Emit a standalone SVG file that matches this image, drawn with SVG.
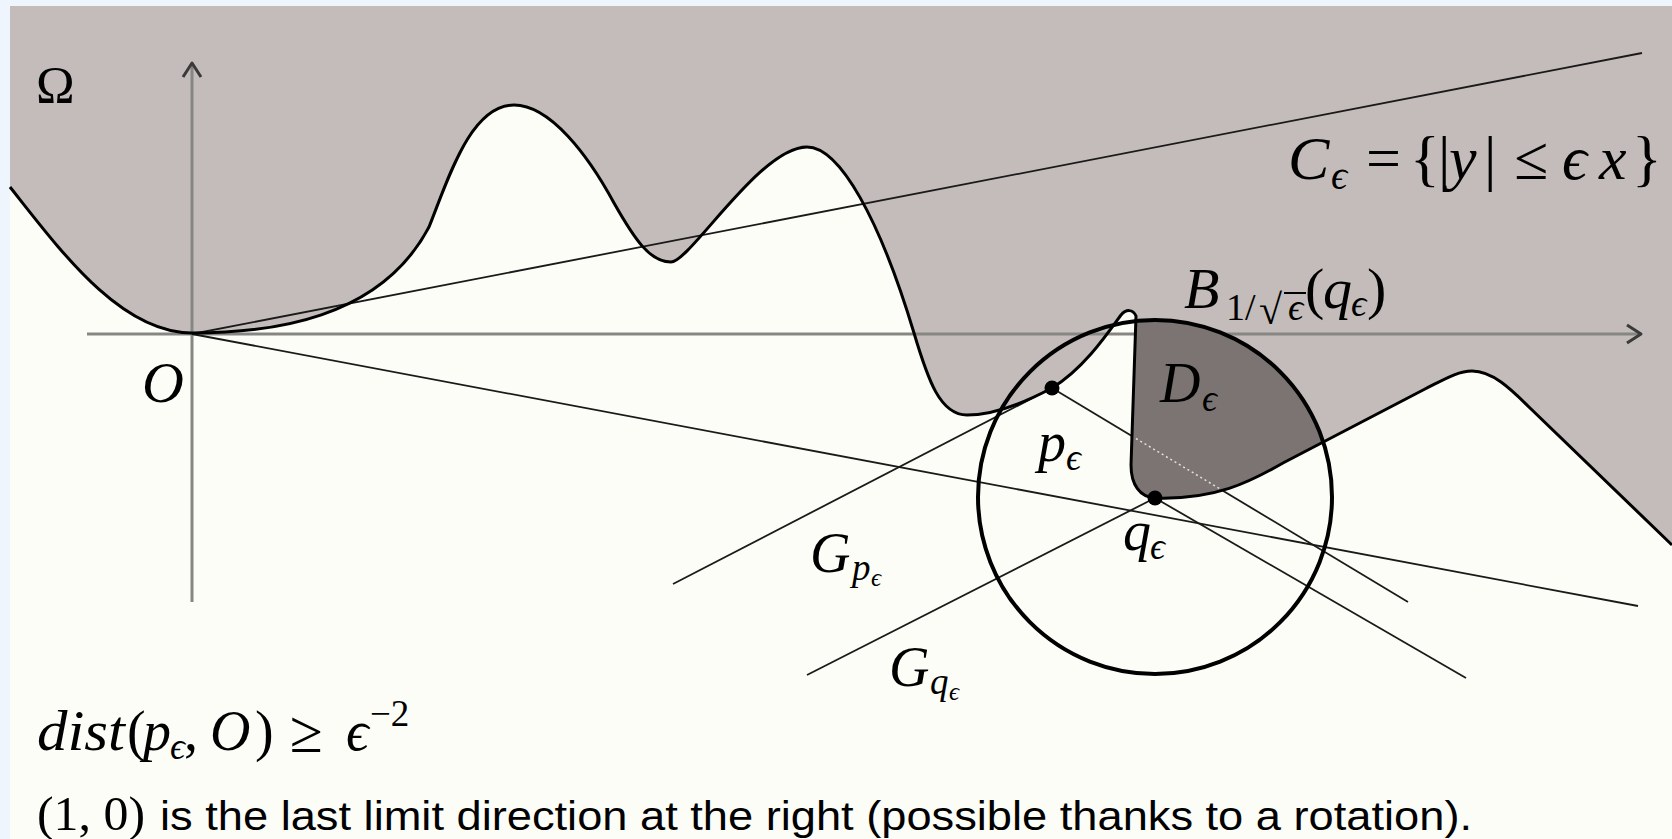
<svg xmlns="http://www.w3.org/2000/svg" width="1672" height="839" viewBox="0 0 1672 839">
<defs>
<style>
.m{font-family:"Liberation Serif","DejaVu Serif",serif;fill:#000}
.i{font-style:italic}
.thin{stroke:#1a1a1a;stroke-width:1.8;fill:none}
.axis{stroke:#868682;stroke-width:3;fill:none}
.arrow{stroke:#3a3a3a;stroke-width:3;fill:none;stroke-linejoin:round}
.sans{font-family:"Liberation Sans",Arial,sans-serif;fill:#000}
.dot{fill:#000}
</style>
</defs>
<rect width="1672" height="839" fill="#eef5fc"/>
<rect x="10" y="6" width="1662" height="833" fill="#fdfdf8"/>

<g id="omega-region">
<path fill="#c3bcba" d="M10,187 C60,250 120,333 192,333 C270,333 380,320 429,227 C448,180 470,105 514,105 C550,105 588,155 614,203 C635,240 650,262 671,262 C690,262 760,147 807,147 C840,147 880,220 914,333 C928,380 940,415 967,415 C990,415 1020,405 1052,388 C1085,368 1110,330 1121,315 C1126,309 1133,309 1136,316 L1131,465 C1131,485 1140,497 1155,498 C1215,500 1250,482 1283,463 L1425,389 C1445,379 1458,371 1472,371 C1492,371 1510,388 1530,408 L1672,545 L1672,6 L10,6 Z"/>
</g>

<g id="axes">
<line class="axis" x1="192" y1="602" x2="192" y2="64"/>
<line class="axis" x1="87" y1="334" x2="1640" y2="334"/>
<polyline class="arrow" points="183,77 192,63 201,77"/>
<polyline class="arrow" points="1627,325 1641,334 1627,343"/>
</g>

<g id="connectors">
<line class="thin" x1="192" y1="334" x2="1642" y2="53"/>
<line class="thin" x1="192" y1="334" x2="1638" y2="606"/>
<line class="thin" x1="673" y1="584" x2="1052" y2="388"/>
<line class="thin" x1="1052" y1="388" x2="1408" y2="602"/>
<line class="thin" x1="807" y1="675" x2="1155" y2="498"/>
<line class="thin" x1="1155" y1="498" x2="1466" y2="678"/>
</g>

<g id="D-region">
<path fill="#7b7473" d="M1136,320 L1131,465 C1131,485 1140,497 1155,498 C1215,500 1250,482 1283,463 L1322,443 A177,177 0 0 0 1136,320 Z"/>
<line x1="1136" y1="438.5" x2="1221" y2="489.5" stroke="#e2e2e2" stroke-width="1.5" stroke-dasharray="2 3"/>
</g>

<g id="boundary">
<path fill="none" stroke="#000" stroke-width="3" d="M10,187 C60,250 120,333 192,333 C270,333 380,320 429,227 C448,180 470,105 514,105 C550,105 588,155 614,203 C635,240 650,262 671,262 C690,262 760,147 807,147 C840,147 880,220 914,333 C928,380 940,415 967,415 C990,415 1020,405 1052,388 C1085,368 1110,330 1121,315 C1126,309 1133,309 1136,316 L1131,465 C1131,485 1140,497 1155,498 C1215,500 1250,482 1283,463 L1425,389 C1445,379 1458,371 1472,371 C1492,371 1510,388 1530,408 L1672,545"/>
</g>

<g id="ball">
<circle cx="1155" cy="497" r="177" fill="none" stroke="#000" stroke-width="4"/>
</g>

<g id="points">
<circle class="dot" cx="1052" cy="388" r="7.5"/>
<circle class="dot" cx="1155" cy="498" r="7.5"/>
</g>

<g id="label-omega"><text class="m" x="36" y="103" font-size="52">Ω</text></g>

<g id="label-cone">
<text class="m" y="179" font-size="62"><tspan class="i" x="1288">C</tspan><tspan x="1331" y="189" font-size="40" class="i">ϵ</tspan><tspan x="1366" y="179">=</tspan><tspan x="1410">{</tspan><tspan x="1438">|</tspan><tspan class="i" x="1449">y</tspan><tspan x="1484">|</tspan><tspan x="1514">≤</tspan><tspan class="i" x="1562">ϵ</tspan><tspan class="i" x="1599">x</tspan><tspan x="1632">}</tspan></text>
</g>

<g id="label-O"><text class="m i" x="142" y="402" font-size="58">O</text></g>

<g id="label-D">
<text class="m i" x="1160" y="402" font-size="56">D</text>
<text class="m i" x="1202" y="411" font-size="37">ϵ</text>
</g>

<g id="label-p">
<text class="m i" x="1038" y="461" font-size="56">p</text>
<text class="m i" x="1066" y="470" font-size="37">ϵ</text>
</g>

<g id="label-q">
<text class="m i" x="1123" y="550" font-size="56">q</text>
<text class="m i" x="1150" y="559" font-size="37">ϵ</text>
</g>

<g id="label-B">
<text class="m i" x="1184" y="308" font-size="58">B</text>
<text class="m" x="1226" y="320" font-size="38">1</text>
<text class="m" x="1245" y="320" font-size="38">/</text>
<text class="m" x="1259" y="324" font-size="42">√</text>
<text class="m i" x="1288" y="320" font-size="38">ϵ</text>
<line x1="1284" y1="293" x2="1306" y2="293" stroke="#000" stroke-width="2"/>
<text class="m" x="1305" y="308" font-size="58">(</text>
<text class="m i" x="1323" y="308" font-size="58">q</text>
<text class="m i" x="1351" y="316" font-size="38">ϵ</text>
<text class="m" x="1367" y="308" font-size="58">)</text>
</g>

<g id="label-Gp">
<text class="m i" x="810" y="572" font-size="56">G</text>
<text class="m i" x="852" y="580" font-size="37">p</text>
<text class="m i" x="871" y="586" font-size="25">ϵ</text>
</g>

<g id="label-Gq">
<text class="m i" x="889" y="686" font-size="56">G</text>
<text class="m i" x="930" y="694" font-size="37">q</text>
<text class="m i" x="949" y="700" font-size="25">ϵ</text>
</g>

<g id="label-dist">
<text class="m i" x="37" y="750" font-size="56" textLength="88" lengthAdjust="spacingAndGlyphs">dist</text>
<text class="m" x="127" y="750" font-size="56">(</text>
<text class="m i" x="143" y="750" font-size="56">p</text>
<text class="m i" x="170" y="759" font-size="37">ϵ</text>
<text class="m" x="184" y="750" font-size="56">,</text>
<text class="m i" x="210" y="750" font-size="56">O</text>
<text class="m" x="255" y="750" font-size="56">)</text>
<text class="m" x="290" y="752" font-size="60">≥</text>
<text class="m i" x="346" y="750" font-size="56">ϵ</text>
<text class="m" x="370" y="726" font-size="37">−2</text>
</g>

<g id="label-note">
<text class="m" x="37" y="830" font-size="48" textLength="108" lengthAdjust="spacingAndGlyphs">(1, 0)</text>
<text class="sans" x="160" y="830" font-size="40" textLength="1312" lengthAdjust="spacingAndGlyphs">is the last limit direction at the right (possible thanks to a rotation).</text>
</g>
</svg>
